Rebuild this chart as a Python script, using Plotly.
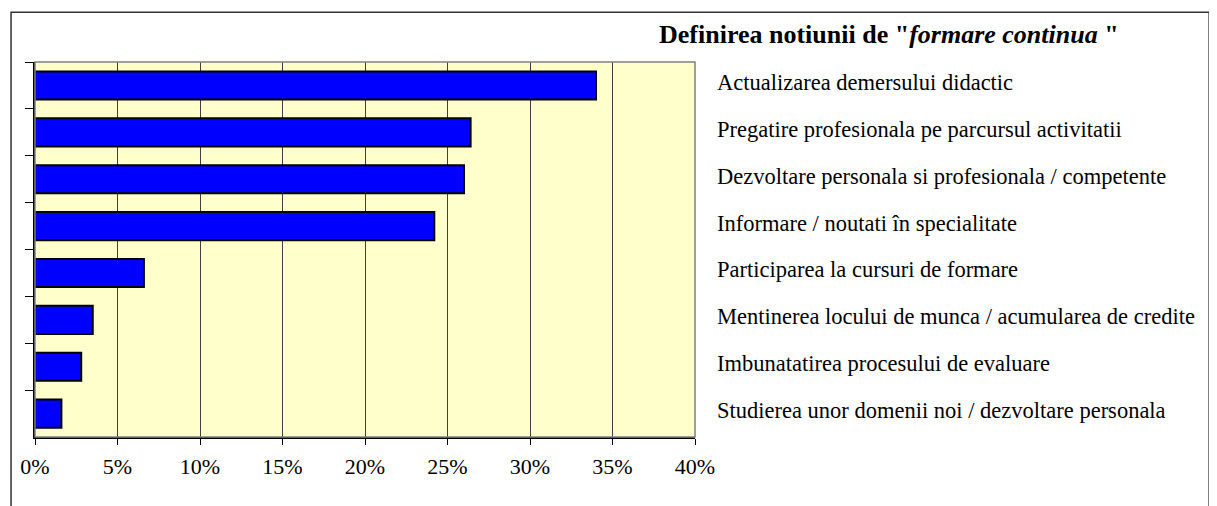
import plotly.graph_objects as go

# categories, top to bottom
categories = [
    "Actualizarea demersului didactic",
    "Pregatire profesionala pe parcursul activitatii",
    "Dezvoltare personala si profesionala / competente",
    "Informare / noutati în specialitate",
    "Participarea la cursuri de formare",
    "Mentinerea locului de munca / acumularea de credite",
    "Imbunatatirea procesului de evaluare",
    "Studierea unor domenii noi / dezvoltare personala",
]
values = [0.34, 0.264, 0.26, 0.242, 0.066, 0.035, 0.028, 0.016]
x_ticks = [0, 0.05, 0.10, 0.15, 0.20, 0.25, 0.30, 0.35, 0.40]
x_ticklabels = ["0%", "5%", "10%", "15%", "20%", "25%", "30%", "35%", "40%"]

serif = "Liberation Serif, Times New Roman, serif"

fig = go.Figure()
fig.add_trace(go.Bar(
    x=values, y=categories, orientation="h",
    marker=dict(color="#0000FF", line=dict(color="black", width=2)),
    showlegend=False,
))

# category labels on the right, like the excel legend
for cat in categories:
    fig.add_annotation(
        x=1.03, xref="paper", y=cat, yref="y", text=cat,
        xanchor="left", yanchor="middle", showarrow=False, yshift=3,
        font=dict(family=serif, size=22.5, color="black"),
    )

fig.add_annotation(
    x=1.294, xref="paper", y=1.072, yref="paper",
    text='<b>Definirea notiunii de "<i>formare continua</i> "</b>',
    xanchor="center", yanchor="middle", showarrow=False,
    font=dict(family=serif, size=26, color="black"),
)

# outer frame of the chart
fig.add_shape(type="rect", xref="paper", yref="paper",
              x0=-0.0363, x1=1.779, y0=-0.2, y1=1.133,
              line=dict(color="#333333", width=1.5), layer="below")
# plot area frame (top/right grey)
fig.add_shape(type="rect", xref="paper", yref="paper",
              x0=0, x1=1, y0=0, y1=1,
              line=dict(color="#808080", width=1.5), layer="above")

# page body has an 8px margin, so the figure is 8px smaller and shifted
fig.update_layout(
    width=1209, height=498,
    margin=dict(l=25, r=522, t=54, b=69),
    paper_bgcolor="white",
    plot_bgcolor="#FFFFCC",
    bargap=0.4,
    font=dict(family=serif, size=22, color="black"),
    xaxis=dict(
        range=[0, 0.40], tickvals=x_ticks, ticktext=x_ticklabels,
        showgrid=True, gridcolor="#404040", gridwidth=1,
        showline=True, linecolor="black", linewidth=1.5,
        ticks="outside", ticklen=6, tickcolor="black",
        ticklabelstandoff=3,
        zeroline=False, fixedrange=True,
    ),
    yaxis=dict(
        categoryorder="array", categoryarray=categories,
        autorange="reversed", showticklabels=False,
        showline=True, linecolor="black", linewidth=1.5,
        ticks="outside", ticklen=8, tickcolor="black", tickson="boundaries",
        showgrid=False, zeroline=False, fixedrange=True,
    ),
)

fig.write_html("out.html")
